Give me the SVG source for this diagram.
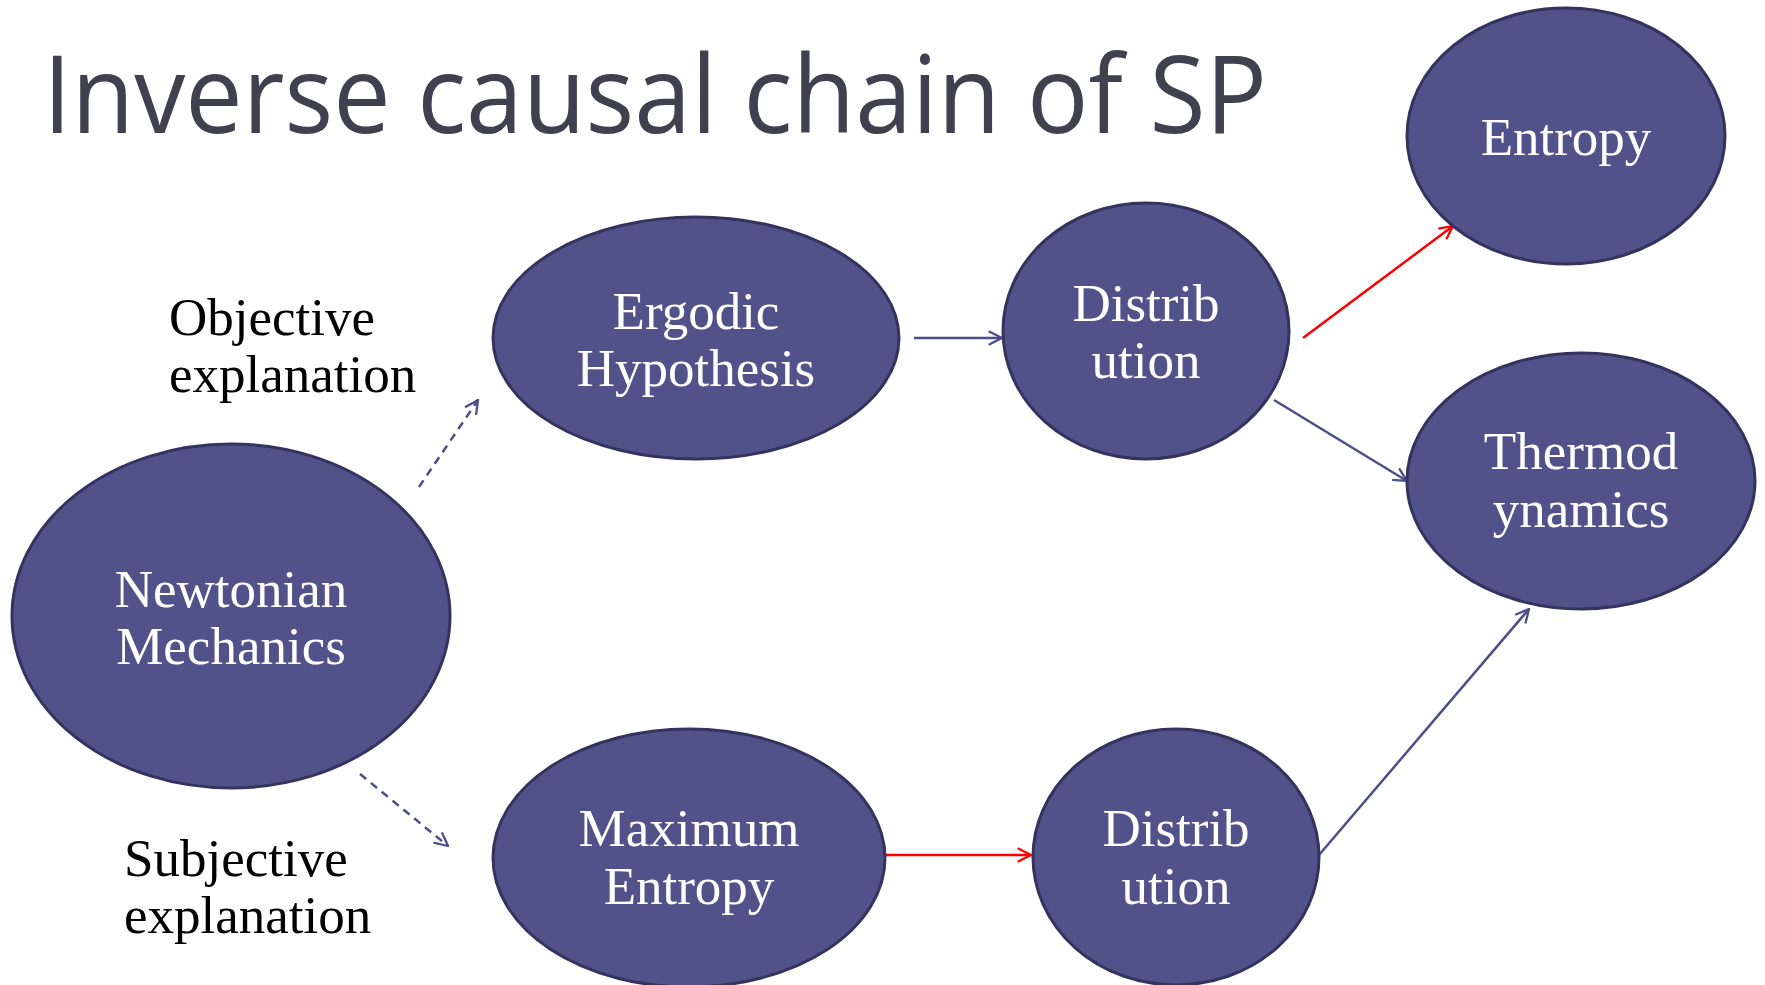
<svg xmlns="http://www.w3.org/2000/svg" width="1765" height="985" viewBox="0 0 1765 985">
<style>
.node ellipse{fill:#52528a;stroke:#33335e;stroke-width:3}
.node text{fill:#ffffff;font-family:"Liberation Serif","Times New Roman",serif;font-size:53px;text-anchor:middle}
.lbl{fill:#000000;font-family:"Liberation Serif","Times New Roman",serif;font-size:53px}
.c{fill:none;stroke-width:2.5}
.blue{stroke:#4d4d8a}
.red{stroke:#ff0000}
.dash{stroke-dasharray:8 6}
</style>
<defs>
<marker id="ab" viewBox="0 0 12 12" refX="11" refY="6" markerWidth="16" markerHeight="16" markerUnits="userSpaceOnUse" orient="auto">
<path d="M1,1 L11,6 L1,11" fill="none" stroke="#4d4d8a" stroke-width="1.7"/>
</marker>
<marker id="ar" viewBox="0 0 12 12" refX="11" refY="6" markerWidth="16" markerHeight="16" markerUnits="userSpaceOnUse" orient="auto">
<path d="M1,1 L11,6 L1,11" fill="none" stroke="#ff0000" stroke-width="1.7"/>
</marker>
</defs>
<rect width="1765" height="985" fill="#ffffff"/>
<text x="43" y="133" font-family="Open Sans, DejaVu Sans, sans-serif" font-size="108" fill="#40404f" textLength="1224" lengthAdjust="spacingAndGlyphs">Inverse causal chain of SP</text>
<text class="lbl" x="169" y="335">Objective</text>
<text class="lbl" x="169" y="392">explanation</text>
<text class="lbl" x="124" y="876">Subjective</text>
<text class="lbl" x="124" y="933">explanation</text>
<g id="connectors">
<line class="c blue dash" x1="419" y1="487" x2="478" y2="400" marker-end="url(#ab)"/>
<line class="c blue dash" x1="360" y1="774" x2="448" y2="846" marker-end="url(#ab)"/>
<line class="c blue" x1="914" y1="338" x2="1002" y2="338" marker-end="url(#ab)"/>
<line class="c red" x1="1303" y1="338" x2="1453" y2="226" marker-end="url(#ar)"/>
<line class="c blue" x1="1274" y1="400" x2="1407" y2="481" marker-end="url(#ab)"/>
<line class="c red" x1="885" y1="855" x2="1031" y2="855" marker-end="url(#ar)"/>
<line class="c blue" x1="1319" y1="855" x2="1529" y2="609" marker-end="url(#ab)"/>
</g>
<g id="newtonian" class="node"><ellipse cx="231" cy="616" rx="219" ry="172"/><text x="231" y="607">Newtonian</text><text x="231" y="664">Mechanics</text></g>
<g id="ergodic" class="node"><ellipse cx="696" cy="338" rx="203" ry="121"/><text x="696" y="329">Ergodic</text><text x="696" y="386">Hypothesis</text></g>
<g id="distrib-top" class="node"><ellipse cx="1146" cy="331" rx="143" ry="128"/><text x="1146" y="321">Distrib</text><text x="1146" y="378">ution</text></g>
<g id="entropy" class="node"><ellipse cx="1566" cy="136" rx="159" ry="128"/><text x="1566" y="155">Entropy</text></g>
<g id="thermo" class="node"><ellipse cx="1581" cy="481" rx="174" ry="128"/><text x="1581" y="469">Thermod</text><text x="1581" y="527">ynamics</text></g>
<g id="maxent" class="node"><ellipse cx="689" cy="858" rx="196" ry="129"/><text x="689" y="846">Maximum</text><text x="689" y="904">Entropy</text></g>
<g id="distrib-bottom" class="node"><ellipse cx="1176" cy="857" rx="143" ry="128"/><text x="1176" y="846">Distrib</text><text x="1176" y="904">ution</text></g>
</svg>
